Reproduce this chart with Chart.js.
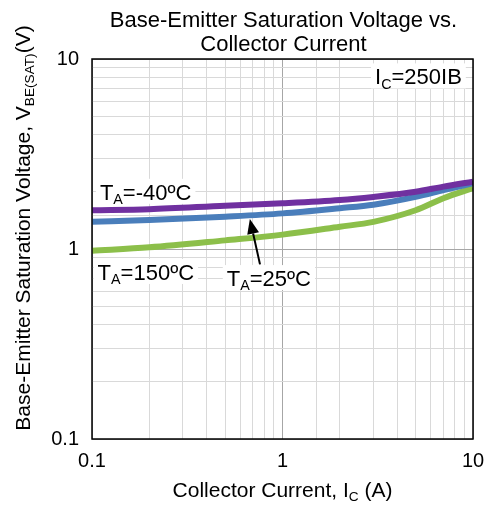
<!DOCTYPE html>
<html>
<head>
<meta charset="utf-8">
<script src="https://cdn.jsdelivr.net/npm/chart.js@4.4.0/dist/chart.umd.min.js"></script>
<style>
    html, body { margin: 0; padding: 0; background: #fff; }
    #wrap { width: 486px; height: 506px; }
</style>
</head>
<body>
<div id="wrap"><canvas id="vbe-chart"></canvas></div>
<script>
// collector current, A
const currents = [0.1, 0.2, 0.5, 1, 2, 3, 5, 7, 10];
// base-emitter saturation voltage, V, one list per ambient temperature
const vbeMinus40 = [1.60, 1.62, 1.69, 1.74, 1.81, 1.88, 2.00, 2.13, 2.26];
const vbe25 = [1.39, 1.42, 1.48, 1.54, 1.64, 1.71, 1.88, 2.04, 2.22];
const vbe150 = [0.98, 1.02, 1.11, 1.19, 1.31, 1.39, 1.60, 1.85, 2.09];
// tick values that carry a label
const xTickLabels = [0.1, 1, 10];
const yTickLabels = [0.1, 1, 10];

const FONT = '"Liberation Sans", Arial, sans-serif';

// pair currents with voltages for the log x axis
const toPoints = (values) => currents.map((c, i) => ({ x: c, y: values[i] }));

// true when a tick value is one of the labelled decades
const isLabelled = (value, list) => list.some(t => Math.abs(Math.log10(value) - Math.log10(t)) < 1e-6);

// draws text made of normal and subscript parts, returns its width
const richText = (ctx, parts, x, y, size, align, measureOnly) => {
    let width = 0;
    parts.forEach(p => {
        ctx.font = `${p[1] ? size * 0.65 : size}px ${FONT}`;
        width += ctx.measureText(p[0]).width;
    });
    if (measureOnly) return width;
    let cx = align === 'center' ? x - width / 2 : x;
    ctx.textAlign = 'left';
    ctx.textBaseline = 'alphabetic';
    parts.forEach(p => {
        ctx.font = `${p[1] ? size * 0.65 : size}px ${FONT}`;
        ctx.fillText(p[0], cx, p[1] ? y + size * 0.2 : y);
        cx += ctx.measureText(p[0]).width;
    });
    return width;
};

// in-plot labels, anchored at left edge / vertical middle in data units
const notes = [
    { parts: [['I'], ['C', 1], ['=250IB']], x: 3.06, y: 8.1 },
    { parts: [['T'], ['A', 1], ['=-40ºC']], x: 0.11, y: 2.0 },
    { parts: [['T'], ['A', 1], ['=150ºC']], x: 0.107, y: 0.757 },
    { parts: [['T'], ['A', 1], ['=25ºC']], x: 0.51, y: 0.703 }
];
// arrow pointing at the 25ºC curve, data units
const arrowTail = { x: 0.762, y: 0.83 };
const arrowTip = { x: 0.674, y: 1.44 };

const decorations = {
    id: 'decorations',
    afterDatasetsDraw: (chart) => {
        const { ctx, chartArea, scales } = chart;
        const sx = scales.x, sy = scales.y;
        ctx.save();

        // plot frame
        ctx.strokeStyle = '#000';
        ctx.lineWidth = 1.5;
        ctx.strokeRect(chartArea.left, chartArea.top, chartArea.right - chartArea.left, chartArea.bottom - chartArea.top);

        // labels with white boxes
        ctx.fillStyle = '#000';
        notes.forEach(n => {
            const px = sx.getPixelForValue(n.x);
            const py = sy.getPixelForValue(n.y);
            const w = richText(ctx, n.parts, 0, 0, 22, 'left', true);
            ctx.fillStyle = '#fff';
            ctx.fillRect(px - 4, py - 13, w + 8, 25);
            ctx.fillStyle = '#000';
            richText(ctx, n.parts, px, py + 8, 22, 'left');
        });

        // arrow
        const tx = sx.getPixelForValue(arrowTail.x), ty = sy.getPixelForValue(arrowTail.y);
        const hx = sx.getPixelForValue(arrowTip.x), hy = sy.getPixelForValue(arrowTip.y);
        const ang = Math.atan2(hy - ty, hx - tx);
        const headLen = 15, headW = 6;
        const bx = hx - headLen * Math.cos(ang), by = hy - headLen * Math.sin(ang);
        ctx.strokeStyle = '#000';
        ctx.lineWidth = 2;
        ctx.beginPath();
        ctx.moveTo(tx, ty);
        ctx.lineTo(bx, by);
        ctx.stroke();
        ctx.beginPath();
        ctx.moveTo(hx, hy);
        ctx.lineTo(bx + headW * Math.sin(ang), by - headW * Math.cos(ang));
        ctx.lineTo(bx - headW * Math.sin(ang), by + headW * Math.cos(ang));
        ctx.closePath();
        ctx.fill();

        // title
        ctx.fillStyle = '#000';
        ctx.font = `22px ${FONT}`;
        ctx.textAlign = 'center';
        ctx.textBaseline = 'middle';
        const mid = (chartArea.left + chartArea.right) / 2;
        ctx.fillText('Base-Emitter Saturation Voltage vs.', mid + 1, 21);
        ctx.fillText('Collector Current', mid + 1, 45);

        // x axis title
        richText(ctx, [['Collector Current, I'], ['C', 1], [' (A)']], mid, 497, 21, 'center');

        // y axis title, rotated
        ctx.translate(30, 228);
        ctx.rotate(-Math.PI / 2);
        richText(ctx, [['Base-Emitter Saturation Voltage, V'], ['BE(SAT)', 1], ['(V)']], 0, 0, 21, 'center');
        ctx.restore();
    }
};

const gridColor = (list) => (c) => isLabelled(c.tick.value, list) ? '#a6a6a6' : '#d9d9d9';

// drop the label overflow padding so the plot keeps its fixed size
const fixPadding = (scale) => {
    scale.paddingLeft = 0;
    scale.paddingRight = 0;
    scale.paddingTop = 0;
    scale.paddingBottom = 0;
};

const vbeChart = new Chart(document.getElementById('vbe-chart'), {
    type: 'line',
    data: {
        datasets: [{
            label: 'TA=-40ºC',
            data: toPoints(vbeMinus40),
            borderColor: '#7030a0'
        }, {
            label: 'TA=25ºC',
            data: toPoints(vbe25),
            borderColor: '#4a7ebb'
        }, {
            label: 'TA=150ºC',
            data: toPoints(vbe150),
            borderColor: '#8cbf4a'
        }].map(d => Object.assign(d, {
            borderWidth: 6,
            pointRadius: 0,
            fill: false,
            cubicInterpolationMode: 'monotone'
        }))
    },
    options: {
        responsive: true,
        maintainAspectRatio: false,
        animation: false,
        layout: { padding: { top: 59, right: 13, left: 0, bottom: 0 } },
        plugins: {
            legend: { display: false },
            tooltip: { enabled: false }
        },
        scales: {
            x: {
                type: 'logarithmic',
                min: 0.1,
                max: 10,
                afterFit: (scale) => { scale.height = 67; fixPadding(scale); },
                grid: { color: gridColor(xTickLabels), lineWidth: 1, drawTicks: false },
                border: { display: false },
                ticks: {
                    autoSkip: false,
                    maxRotation: 0,
                    padding: 10,
                    color: '#000',
                    font: { family: FONT, size: 20 },
                    callback: (v) => isLabelled(v, xTickLabels) ? String(xTickLabels.find(t => isLabelled(v, [t]))) : ''
                }
            },
            y: {
                type: 'logarithmic',
                min: 0.1,
                max: 10,
                afterFit: (scale) => { scale.width = 92; fixPadding(scale); },
                grid: { color: gridColor(yTickLabels), lineWidth: 1, drawTicks: false },
                border: { display: false },
                ticks: {
                    autoSkip: false,
                    padding: 13,
                    color: '#000',
                    font: { family: FONT, size: 20 },
                    callback: (v) => isLabelled(v, yTickLabels) ? String(yTickLabels.find(t => isLabelled(v, [t]))) : ''
                }
            }
        }
    },
    plugins: [decorations]
});
</script>
</body>
</html>
